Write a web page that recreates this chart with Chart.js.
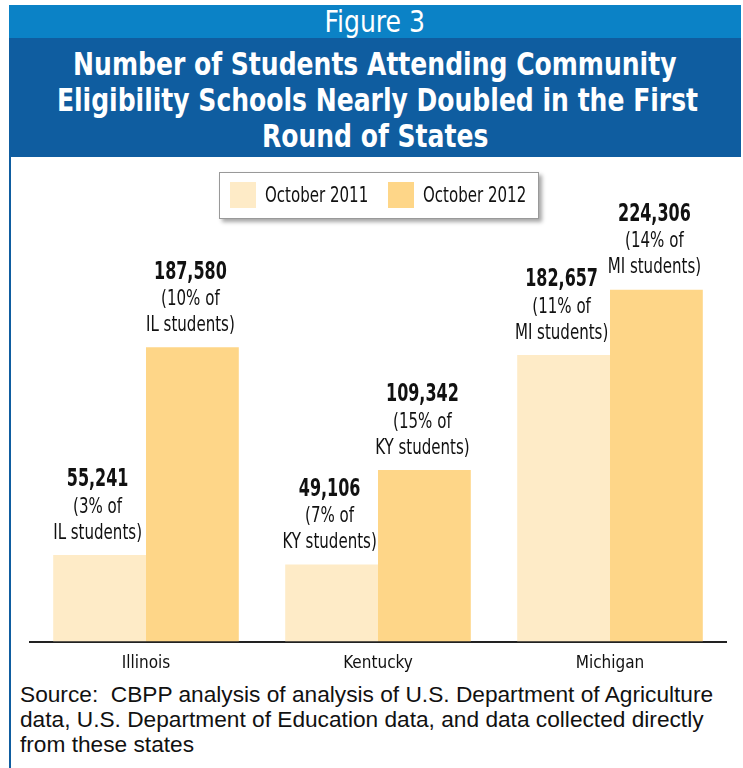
<!DOCTYPE html>
<html>
<head>
<meta charset="utf-8">
<script src="https://cdn.jsdelivr.net/npm/chart.js@4"></script>
<style>
body { margin: 0; width: 743px; height: 768px; background: #fff; position: relative; overflow: hidden; }
.cond { font-family: "DejaVu Sans Condensed", sans-serif; }
.sq { display: inline-block; white-space: nowrap; transform-origin: center; }
#fig { position: absolute; left: 9px; top: 5px; width: 732px; height: 33px; background: #0b82c6; color: #fff; text-align: center; font-size: 31px; line-height: 33px; }
#title { position: absolute; left: 9px; top: 38px; width: 732px; height: 119px; background: #0f5da0; color: #fff; text-align: center; font-size: 32px; font-weight: bold; line-height: 36px; padding-top: 8px; box-sizing: border-box; }
#title .sq { transform: scaleX(0.87); }
#fig .sq { transform: scaleX(0.9); }
#edge { position: absolute; left: 9px; top: 157px; width: 2px; height: 611px; background: #0f5da0; }
#chartBox { position: absolute; left: 0; top: 160px; width: 743px; height: 518px; }
#legend { position: absolute; left: 219px; top: 172px; width: 318px; height: 45px; border: 1px solid #999; background: #fff; box-shadow: 3px 3px 4px rgba(0,0,0,0.35); }
.sw { position: absolute; top: 9px; width: 26px; height: 26px; }
.lt { position: absolute; top: 8px; height: 28px; font-size: 22px; line-height: 28px; color: #111; white-space: nowrap; transform: scaleX(0.76); transform-origin: left center; }
#source { position: absolute; left: 20px; top: 682px; width: 720px; font-family: "Liberation Sans", Arial, sans-serif; font-size: 22.7px; line-height: 25px; color: #111; white-space: nowrap; }
</style>
</head>
<body>
<div id="fig" class="cond"><span class="sq">Figure 3</span></div>
<div id="title" class="cond"><span class="sq">Number of Students Attending Community</span><br><span class="sq">Eligibility Schools Nearly Doubled in the First</span><br><span class="sq">Round of States</span></div>
<div id="edge"></div>
<div id="chartBox"><canvas id="chart" width="743" height="518"></canvas></div>
<div id="legend" class="cond"></div>
<div id="source">Source:&nbsp; CBPP analysis of analysis of U.S. Department of Agriculture<br>data, U.S. Department of Education data, and data collected directly<br>from these states</div>
<script>
const states = ["Illinois", "Kentucky", "Michigan"];
const seriesNames = ["October 2011", "October 2012"];
const students2011 = [55241, 49106, 182657];
const students2012 = [187580, 109342, 224306];
const share2011 = ["3%", "7%", "11%"];
const share2012 = ["10%", "15%", "14%"];
const abbrev = ["IL", "KY", "MI"];
const colors = ["#feebc7", "#fed688"];

const condFont = '"DejaVu Sans Condensed", sans-serif';

// legend built from the series names and colours
const legend = document.getElementById('legend');
const swatchX = [10, 168];
seriesNames.forEach((name, i) => {
    const sw = document.createElement('div');
    sw.className = 'sw';
    sw.style.left = swatchX[i] + 'px';
    sw.style.background = colors[i];
    legend.appendChild(sw);
    const t = document.createElement('div');
    t.className = 'lt';
    t.style.left = (swatchX[i] + 35) + 'px';
    t.textContent = name;
    legend.appendChild(t);
});

// squeeze text horizontally so it reads like a condensed face
function condText(ctx, text, x, y, k) {
    ctx.save();
    ctx.translate(x, y);
    ctx.scale(k, 1);
    ctx.fillText(text, 0, 0);
    ctx.restore();
}

// value + share text stacked above each bar
const barLabels = {
    id: 'barLabels',
    afterDatasetsDraw(chart) {
        const ctx = chart.ctx;
        const shares = [share2011, share2012];
        ctx.save();
        ctx.textAlign = 'center';
        ctx.textBaseline = 'middle';
        ctx.fillStyle = '#111';
        chart.data.datasets.forEach((ds, di) => {
            chart.getDatasetMeta(di).data.forEach((bar, i) => {
                const x = bar.x - 2;
                const y = bar.y - 22;
                ctx.font = '22px ' + condFont;
                condText(ctx, abbrev[i] + ' students)', x, y, 0.76);
                condText(ctx, '(' + shares[di][i] + ' of', x, y - 26, 0.76);
                ctx.font = 'bold 24px ' + condFont;
                condText(ctx, ds.data[i].toLocaleString('en-US'), x, y - 53, 0.74);
            });
        });
        ctx.restore();
    }
};

new Chart('chart', {
    type: 'bar',
    data: {
        labels: states,
        datasets: [
            { label: seriesNames[0], data: students2011, backgroundColor: colors[0] },
            { label: seriesNames[1], data: students2012, backgroundColor: colors[1] }
        ]
    },
    options: {
        responsive: false,
        animation: false,
        layout: { padding: { left: 30, right: 17, top: 11, bottom: 0 } },
        datasets: { bar: { categoryPercentage: 0.8, barPercentage: 1.0 } },
        plugins: { legend: { display: false }, tooltip: { enabled: false } },
        scales: {
            x: {
                grid: { display: false },
                border: { display: true, color: '#222', width: 2 },
                ticks: { color: '#111', font: { family: condFont, size: 17 }, padding: 4 }
            },
            y: {
                display: false,
                min: 0,
                max: 300000
            }
        }
    },
    plugins: [barLabels]
});
</script>
</body>
</html>
